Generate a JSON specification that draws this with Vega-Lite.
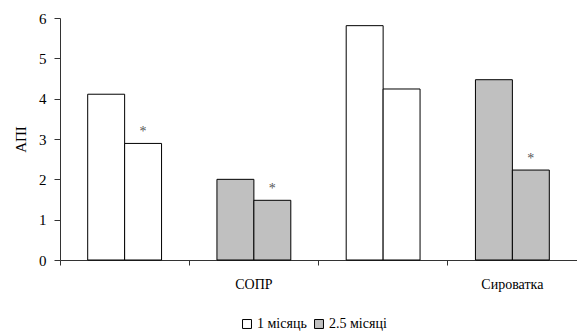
{
  "$schema": "https://vega.github.io/schema/vega-lite/v6.json",
  "width": 517,
  "height": 242,
  "autosize": {"type": "none"},
  "padding": {"left": 60, "top": 18, "right": 0, "bottom": 72},
  "background": "white",
  "config": {
    "font": "serif",
    "view": {"stroke": null}
  },
  "data": {
    "values": [
      {"slot": "a", "bar": "1", "period": "1 місяць", "value": 4.11, "star": ""},
      {"slot": "a", "bar": "2", "period": "1 місяць", "value": 2.89, "star": "*"},
      {"slot": "b", "bar": "1", "period": "2.5 місяці", "value": 2.0, "star": ""},
      {"slot": "b", "bar": "2", "period": "2.5 місяці", "value": 1.48, "star": "*"},
      {"slot": "c", "bar": "1", "period": "1 місяць", "value": 5.81, "star": ""},
      {"slot": "c", "bar": "2", "period": "1 місяць", "value": 4.24, "star": ""},
      {"slot": "d", "bar": "1", "period": "2.5 місяці", "value": 4.47, "star": ""},
      {"slot": "d", "bar": "2", "period": "2.5 місяці", "value": 2.23, "star": "*"}
    ]
  },
  "encoding": {
    "x": {
      "field": "slot",
      "type": "nominal",
      "scale": {"domain": ["a", "b", "c", "d"], "paddingInner": 0, "paddingOuter": 0},
      "axis": {
        "title": null,
        "bandPosition": 0,
        "labelExpr": "datum.value == 'b' ? 'СОПР' : datum.value == 'd' ? 'Сироватка' : ''",
        "labelAngle": 0,
        "labelFont": "Liberation Serif",
        "labelFontSize": 14,
        "labelColor": "black",
        "labelPadding": 12,
        "tickSize": 5,
        "tickColor": "#333",
        "domainColor": "#333",
        "grid": false
      }
    },
    "xOffset": {
      "field": "bar",
      "type": "nominal",
      "scale": {"domain": ["1", "2"], "paddingInner": 0, "paddingOuter": 0.75}
    },
    "y": {
      "field": "value",
      "type": "quantitative",
      "scale": {"domain": [0, 6], "nice": false},
      "axis": {
        "title": "АПІ",
        "titleFont": "Liberation Serif",
        "titleFontSize": 15,
        "titleFontWeight": "normal",
        "titleColor": "black",
        "titlePadding": 10,
        "values": [0, 1, 2, 3, 4, 5, 6],
        "labelFont": "Liberation Serif",
        "labelFontSize": 15,
        "labelColor": "black",
        "labelPadding": 8,
        "tickSize": 6,
        "tickColor": "#333",
        "domainColor": "#333",
        "grid": false
      }
    }
  },
  "layer": [
    {
      "mark": {"type": "bar", "stroke": "black", "strokeWidth": 1},
      "encoding": {
        "fill": {
          "field": "period",
          "type": "nominal",
          "scale": {"domain": ["1 місяць", "2.5 місяці"], "range": ["white", "#c0c0c0"]},
          "legend": {
            "title": null,
            "orient": "none",
            "legendX": 180,
            "legendY": 299,
            "direction": "horizontal",
            "symbolType": "square",
            "symbolSize": 80,
            "symbolStrokeColor": "black",
            "symbolStrokeWidth": 1,
            "labelFont": "Liberation Serif",
            "labelFontSize": 14,
            "labelColor": "black",
            "columnPadding": 5,
            "labelOffset": 3
          }
        }
      }
    },
    {
      "transform": [{"filter": "datum.star == '*'"}],
      "mark": {"type": "text", "dy": -11, "fontSize": 14, "fill": "#555", "font": "Liberation Serif"},
      "encoding": {"text": {"field": "star"}}
    }
  ]
}
